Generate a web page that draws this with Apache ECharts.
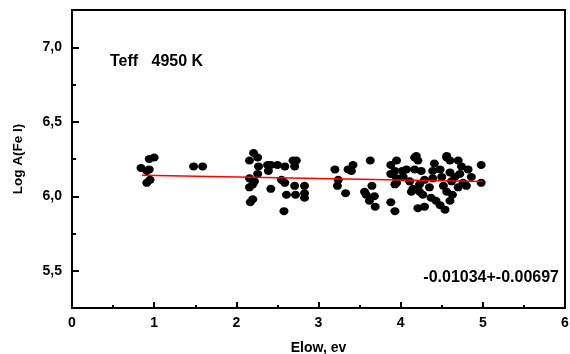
<!DOCTYPE html>
<html>
<head>
<meta charset="utf-8">
<script src="https://cdn.jsdelivr.net/npm/echarts@6/dist/echarts.min.js"></script>
<style>
  html, body { margin: 0; padding: 0; background: #fff; }
  #chart { width: 570px; height: 354px; }
</style>
</head>
<body>
<div id="chart"></div>
<script>
// Fe I lines: excitation potential (eV) and abundance
const elow = [
  0.84, 0.94, 1.00, 0.94, 0.91, 0.95, 0.91, 1.48, 1.59,
  2.21, 2.26, 2.16, 2.27, 2.26, 2.16, 2.22, 2.20, 2.16, 2.20, 2.17,
  2.38, 2.42, 2.39, 2.50, 2.59, 2.69, 2.73, 2.71, 2.42, 2.55, 2.59,
  2.61, 2.71, 2.72, 2.83, 2.83, 2.83, 2.58,
  3.20, 3.36, 3.42, 3.40, 3.63, 3.24, 3.23, 3.33, 3.56, 3.58, 3.65,
  3.68, 3.62, 3.69, 3.88, 3.95, 3.88, 3.93, 3.95, 3.93, 3.88, 3.93,
  4.02, 4.03, 4.13, 4.23, 3.95,
  4.17, 4.21, 4.07, 4.17, 4.25, 4.41, 4.39, 4.56, 4.60, 4.70, 4.74,
  4.82, 4.60, 4.66, 4.72, 4.98, 4.98, 4.11, 4.15, 4.23, 4.29, 4.35,
  4.27, 4.37, 4.43, 4.21, 4.29, 4.48, 4.54, 4.52, 4.56, 4.63, 4.60,
  4.76, 4.80, 4.70, 4.86, 4.62, 4.39, 4.50, 4.48, 4.19, 4.56
];
const logA = [
  6.19, 6.25, 6.26, 6.18, 6.17, 6.11, 6.09, 6.20, 6.20,
  6.29, 6.26, 6.24, 6.20, 6.15, 6.12, 6.10, 6.08, 6.06, 5.98, 5.96,
  6.21, 6.21, 6.17, 6.21, 6.20, 6.24, 6.24, 6.20, 6.05, 6.11, 6.09,
  6.01, 6.07, 6.01, 6.07, 6.02, 5.99, 5.90,
  6.18, 6.18, 6.21, 6.17, 6.24, 6.11, 6.07, 6.02, 6.03, 6.01, 6.07,
  6.00, 5.97, 5.93, 6.21, 6.24, 6.15, 6.17, 6.12, 6.08, 5.96, 5.90,
  6.17, 6.13, 6.03, 6.03, 6.09,
  6.26, 6.24, 6.18, 6.18, 6.17, 6.22, 6.17, 6.26, 6.24, 6.24, 6.20,
  6.18, 6.16, 6.13, 6.15, 6.21, 6.09, 6.10, 6.05, 6.08, 6.11, 6.06,
  6.01, 5.99, 5.97, 5.92, 5.93, 5.94, 5.91, 6.07, 6.03, 6.01, 5.97,
  6.09, 6.07, 6.06, 6.13, 6.10, 6.12, 6.13, 6.18, 6.27, 6.27
];

// linear fit: logA = intercept + slope * elow
const fitSlope = -0.01034;
const fitSlopeErr = 0.00697;
const fitIntercept = 6.150;
const fitRange = [0.85, 5.0];

const yMajor = [5.5, 6.0, 6.5, 7.0];
const yMinor = [5.75, 6.25, 6.75];

const points = elow.map((x, i) => [x, logA[i]]);
const fitLine = fitRange.map(x => [x, fitIntercept + fitSlope * x]);

const font = '"Liberation Sans", Arial, sans-serif';
const black = '#000';

const chart = echarts.init(document.getElementById('chart'));

chart.setOption({
  animation: false,
  title: [
    {
      text: 'Teff   4950 K',
      left: 110, top: 54, padding: 0,
      textStyle: { color: black, fontFamily: font, fontWeight: 'bold', fontSize: 16 }
    },
    {
      text: fitSlope.toFixed(5) + '+-' + fitSlopeErr.toFixed(5),
      right: 11, top: 270, padding: 0,
      textStyle: { color: black, fontFamily: font, fontWeight: 'bold', fontSize: 16 }
    }
  ],
  grid: {
    left: 72, right: 5, top: 10, bottom: 46,
    show: true, borderColor: black, borderWidth: 2,
    outerBoundsMode: 'none'
  },
  xAxis: {
    type: 'value',
    min: 0,
    max: 6,
    interval: 1,
    name: 'Elow, ev',
    nameLocation: 'middle',
    nameGap: 33,
    nameTextStyle: { color: black, fontFamily: font, fontWeight: 'bold', fontSize: 14 },
    axisLine: { show: true, onZero: false, lineStyle: { color: black, width: 2 } },
    axisTick: { show: true, inside: true, length: 6, lineStyle: { color: black, width: 2 } },
    minorTick: { show: true, splitNumber: 2, length: 3, lineStyle: { color: black, width: 2 } },
    axisLabel: { color: black, fontFamily: font, fontWeight: 'bold', fontSize: 14, margin: 8 },
    splitLine: { show: false },
    minorSplitLine: { show: false }
  },
  yAxis: [
    {
      type: 'value',
      min: 5.25,
      max: 7.25,
      name: 'Log A(Fe I)',
      nameLocation: 'middle',
      nameRotate: 90,
      nameGap: 47,
      nameTextStyle: { color: black, fontFamily: font, fontWeight: 'bold', fontSize: 13.5 },
      axisLine: { show: true, onZero: false, lineStyle: { color: black, width: 2 } },
      axisTick: {
        show: true, inside: true, length: 7, customValues: yMajor,
        lineStyle: { color: black, width: 2 }
      },
      axisLabel: {
        customValues: yMajor,
        formatter: v => v.toFixed(1).replace('.', ','),
        color: black, fontFamily: font, fontWeight: 'bold', fontSize: 14, margin: 10
      },
      splitLine: { show: false }
    },
    {
      type: 'value',
      position: 'left',
      min: 5.25,
      max: 7.25,
      axisLine: { show: false },
      axisTick: {
        show: true, inside: true, length: 4, customValues: yMinor,
        lineStyle: { color: black, width: 2 }
      },
      axisLabel: { show: false },
      splitLine: { show: false }
    }
  ],
  series: [
    {
      type: 'scatter',
      data: points,
      symbol: 'circle',
      symbolSize: [9, 8],
      itemStyle: { color: black, opacity: 1 }
    },
    {
      type: 'line',
      data: fitLine,
      symbol: 'none',
      lineStyle: { color: '#ff0000', width: 1.5 },
      z: 3
    }
  ]
});
</script>
</body>
</html>
